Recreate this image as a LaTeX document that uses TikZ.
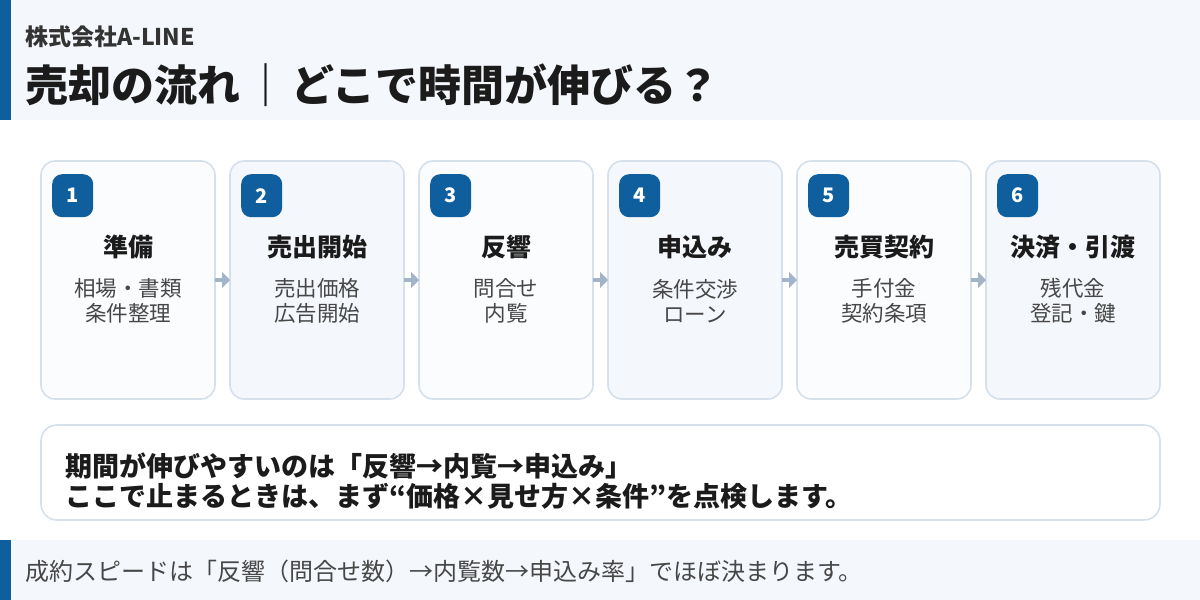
\documentclass[tikz,border=0pt]{standalone}
\usepackage{fontspec}
\setmainfont{Noto Sans CJK JP}
\usetikzlibrary{arrows.meta,positioning}

\definecolor{brand}{HTML}{0F5F9E}
\definecolor{panel}{HTML}{F4F7FC}
\definecolor{cardA}{HTML}{FAFCFE}
\definecolor{edge}{HTML}{D6E0EB}
\definecolor{flow}{HTML}{A3B4C8}
\definecolor{ink}{HTML}{1B1B1B}
\definecolor{soft}{HTML}{474747}

\tikzset{
	card/.style={draw=edge,line width=1.6pt,rounded corners=14pt,minimum width=174pt,minimum height=238pt,inner sep=0pt,outer sep=0pt},
	badge/.style={fill=brand,rounded corners=10pt,minimum width=41pt,minimum height=43pt,inner sep=0pt,text=white,font=\fontsize{20}{24}\selectfont\bfseries},
	steptitle/.style={text=ink,inner sep=0pt,font=\fontsize{25}{30}\selectfont\bfseries},
	stepdesc/.style={text=soft,inner sep=0pt,align=center,font=\fontsize{21.5}{25}\selectfont},
	flowarrow/.style={draw=flow,line width=4pt,-{Triangle[length=8pt,width=16pt]}},
	summary/.style={draw=edge,fill=white,line width=1.6pt,rounded corners=16pt,minimum width=1119pt,minimum height=95pt,inner sep=0pt},
}

\begin{document}
\begin{tikzpicture}[x=1pt,y=-1pt]
\useasboundingbox (0,0) rectangle (1200,600);
% header band
\fill[panel] (0,0) rectangle (1200,120);
\fill[brand] (0,0) rectangle (11,120);
\node[anchor=west,inner sep=0pt,text=black!80,font=\fontsize{23}{27}\selectfont\bfseries] (company) at (25,37) {株式会社A-LINE};
\node[anchor=west,inner sep=0pt,text=ink,font=\fontsize{43}{50}\selectfont\bfseries] (title) at (25,85) {売却の流れ\hspace{4pt}｜\hspace{4pt}どこで時間が伸びる？};

% six steps
\foreach \n/\cx/\fc/\ttl/\la/\lb in{
	1/128/cardA/{準備}/{相場・書類}/{条件整理},
	2/317/panel/{売出開始}/{売出価格}/{広告開始},
	3/506/cardA/{反響}/{問合せ}/{内覧},
	4/695/panel/{申込み}/{条件交渉}/{ローン},
	5/884/cardA/{売買契約}/{手付金}/{契約条項},
	6/1073/panel/{決済・引渡}/{残代金}/{登記・鍵}
}
{
	\node[card,fill=\fc] (c\n) at (\cx,280) {};
	\node[badge,below right=13pt and 11pt of c\n.north west] (b\n) {\n};
	\node[steptitle] (t\n) at (\cx,247) {\ttl};
	\node[stepdesc] (d\n) at (\cx,301) {\la\\\lb};
}
\foreach \a/\b in {1/2,2/3,3/4,4/5,5/6}
	\draw[flowarrow] (c\a.east) -- (c\b.west);

% note box
\node[summary] (sum) at (600.5,472.5) {};
\node[anchor=west,align=left,inner sep=0pt,text=ink,font=\fontsize{27}{30}\selectfont\bfseries] (note) at (65,481) {期間が伸びやすいのは「反響→内覧→申込み」\\ここで止まるときは、まず“価格×見せ方×条件”を点検します。};

% footer band
\fill[panel] (0,540) rectangle (1200,600);
\fill[brand] (0,540) rectangle (11,600);
\node[anchor=west,inner sep=0pt,text=soft,font=\fontsize{24}{28}\selectfont] (foot) at (25,571) {成約スピードは「反響（問合せ数）→内覧数→申込み率」でほぼ決まります。};
\end{tikzpicture}
\end{document}
